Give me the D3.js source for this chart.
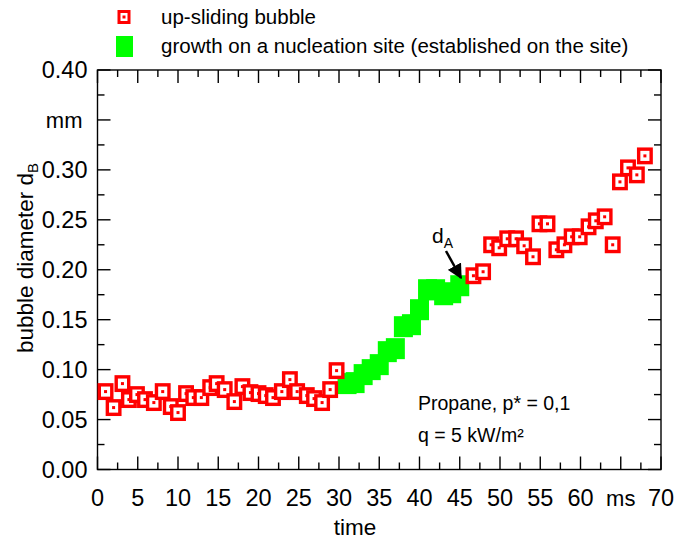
<!DOCTYPE html>
<html>
<head>
<meta charset="utf-8">
<script src="https://cdn.jsdelivr.net/npm/d3@7"></script>
<style>
  body { margin: 0; background: #fff; }
  svg { display: block; font-family: "Liberation Sans", Arial, sans-serif; }
</style>
</head>
<body>
<div id="chart"></div>
<script>
// up-sliding bubble (red open squares)
const slideTime = [1, 2, 3.1, 3.9, 4.9, 5.9, 7, 8.1, 9.1, 10, 11, 11.9, 12.9, 14, 14.8, 15.8, 17, 18, 19, 20, 20.9, 21.8, 22.9, 23.9, 24.8, 26, 26.9, 27.9, 28.9, 29.7,
  46.7, 47.9, 48.9, 49.9, 50.9, 52, 53, 54.1, 54.9, 55.9, 57, 58, 58.9, 59.9, 61, 61.9, 63, 64, 64.9, 65.9, 67, 68];
const slideDiam = [0.078, 0.062, 0.086, 0.070, 0.075, 0.070, 0.067, 0.078, 0.063, 0.057, 0.076, 0.072, 0.072, 0.082, 0.086, 0.080, 0.068, 0.083, 0.077, 0.076, 0.074, 0.072, 0.078, 0.090, 0.078, 0.074, 0.071, 0.067, 0.080, 0.099,
  0.194, 0.198, 0.225, 0.222, 0.231, 0.231, 0.224, 0.213, 0.246, 0.246, 0.220, 0.225, 0.233, 0.233, 0.243, 0.249, 0.253, 0.225, 0.288, 0.302, 0.295, 0.314];

// growth on a nucleation site (green filled squares)
const siteTime = [31, 32, 33, 34, 35, 36, 37, 38, 39, 40, 41, 42, 43, 44, 45];
const siteDiam = [0.086, 0.087, 0.095, 0.100, 0.105, 0.118, 0.121, 0.143, 0.145, 0.160, 0.180, 0.180, 0.175, 0.177, 0.184];

const xTicks = [0, 5, 10, 15, 20, 25, 30, 35, 40, 45, 50, 55, 60, 65, 70];
const xTickText = ["0", "5", "10", "15", "20", "25", "30", "35", "40", "45", "50", "55", "60", "ms", "70"];
const yTicks = [0, 0.05, 0.1, 0.15, 0.2, 0.25, 0.3, 0.35, 0.4];
const yTickText = ["0.00", "0.05", "0.10", "0.15", "0.20", "0.25", "0.30", "mm", "0.40"];

const legendLabels = ["up-sliding bubble", "growth on a nucleation site (established on the site)"];

const width = 674, height = 541;
const margin = { top: 70, right: 13, bottom: 71.5, left: 97.5 };

const svg = d3.select("#chart").append("svg")
  .attr("width", width)
  .attr("height", height);

const x = d3.scaleLinear().domain([0, 70]).range([margin.left, width - margin.right]);
const y = d3.scaleLinear().domain([0, 0.4]).range([height - margin.bottom, margin.top]);

const minorX = d3.range(0, 70.01, 2.5);
const minorY = d3.range(0, 0.4001, 0.025);

// inward ticks on all four sides
const bigT = 13, smallT = 7;
const axes = svg.append("g").attr("stroke", "#000").attr("stroke-width", 1.4);
minorX.forEach(v => {
  const len = Math.abs(v % 5) < 1e-6 ? bigT : smallT;
  axes.append("line").attr("x1", x(v)).attr("x2", x(v)).attr("y1", y(0)).attr("y2", y(0) - len);
  axes.append("line").attr("x1", x(v)).attr("x2", x(v)).attr("y1", y(0.4)).attr("y2", y(0.4) + len);
});
minorY.forEach(v => {
  const len = Math.abs(Math.round(v / 0.025) % 2) === 0 ? bigT : smallT;
  axes.append("line").attr("y1", y(v)).attr("y2", y(v)).attr("x1", x(0)).attr("x2", x(0) + len);
  axes.append("line").attr("y1", y(v)).attr("y2", y(v)).attr("x1", x(70)).attr("x2", x(70) - len);
});
axes.append("rect")
  .attr("x", x(0)).attr("y", y(0.4))
  .attr("width", x(70) - x(0)).attr("height", y(0) - y(0.4))
  .attr("fill", "none");

// tick labels
svg.append("g").selectAll("text").data(xTicks).join("text")
  .attr("x", d => x(d))
  .attr("y", y(0) + 36)
  .attr("text-anchor", "middle")
  .attr("font-size", (d, i) => xTickText[i] === "ms" ? 22 : 23.5)
  .text((d, i) => xTickText[i]);

svg.append("g").selectAll("text").data(yTicks).join("text")
  .attr("x", (d, i) => yTickText[i] === "mm" ? x(0) - 15 : x(0) - 10)
  .attr("y", d => y(d) + 8)
  .attr("text-anchor", "end")
  .attr("font-size", (d, i) => yTickText[i] === "mm" ? 22 : 23.5)
  .text((d, i) => yTickText[i]);

// axis titles
svg.append("text")
  .attr("x", 355).attr("y", 535)
  .attr("text-anchor", "middle")
  .attr("font-size", 22.5)
  .text("time");

const yTitle = svg.append("text")
  .attr("transform", "translate(33,258) rotate(-90)")
  .attr("text-anchor", "middle")
  .attr("font-size", 22.5);
yTitle.append("tspan").text("bubble diameter d");
yTitle.append("tspan").attr("font-size", 15).attr("dy", 5).text("B");

// markers
const siteW = 19, siteH = 21;
svg.append("g").selectAll("rect").data(siteTime).join("rect")
  .attr("x", d => x(d) - siteW / 2)
  .attr("y", (d, i) => y(siteDiam[i]) - siteH / 2)
  .attr("width", siteW).attr("height", siteH)
  .attr("fill", "#00ff00");

const redW = 12.5, redH = 13.5;
const red = svg.append("g").selectAll("g").data(slideTime).join("g")
  .attr("transform", (d, i) => `translate(${x(d)},${y(slideDiam[i])})`);
red.append("rect")
  .attr("x", -redW / 2).attr("y", -redH / 2)
  .attr("width", redW).attr("height", redH)
  .attr("fill", "#fff").attr("stroke", "#ff0000").attr("stroke-width", 3.4);
red.append("rect")
  .attr("x", -1.5).attr("y", -1.5).attr("width", 3).attr("height", 3)
  .attr("fill", "#ff0000");

// legend
const lg = svg.append("g");
lg.append("rect").attr("x", 119).attr("y", 11.5).attr("width", 10).attr("height", 11)
  .attr("fill", "#fff").attr("stroke", "#ff0000").attr("stroke-width", 3);
lg.append("rect").attr("x", 122.5).attr("y", 15.5).attr("width", 3).attr("height", 3).attr("fill", "#ff0000");
lg.append("rect").attr("x", 116).attr("y", 36).attr("width", 17).attr("height", 21).attr("fill", "#00ff00");
lg.selectAll("text").data(legendLabels).join("text")
  .attr("x", 161)
  .attr("y", (d, i) => 24 + i * 29)
  .attr("font-size", 20.5)
  .text(d => d);

// annotations
svg.append("text").attr("x", 418).attr("y", 410).attr("font-size", 19.5).text("Propane, p* = 0,1");
svg.append("text").attr("x", 418).attr("y", 442).attr("font-size", 19.5).text("q = 5 kW/m²");

const dA = svg.append("text").attr("x", 432).attr("y", 243).attr("font-size", 21);
dA.append("tspan").text("d");
dA.append("tspan").attr("font-size", 14).attr("dy", 5).text("A");

svg.append("defs").append("marker")
  .attr("id", "head").attr("viewBox", "0 0 10 10")
  .attr("refX", 9).attr("refY", 5)
  .attr("markerWidth", 6).attr("markerHeight", 6)
  .attr("orient", "auto")
  .append("path").attr("d", "M0,0 L10,5 L0,10 z").attr("fill", "#000");
svg.append("line")
  .attr("x1", 446).attr("y1", 251).attr("x2", 461).attr("y2", 278)
  .attr("stroke", "#000").attr("stroke-width", 2.5)
  .attr("marker-end", "url(#head)");
</script>
</body>
</html>
